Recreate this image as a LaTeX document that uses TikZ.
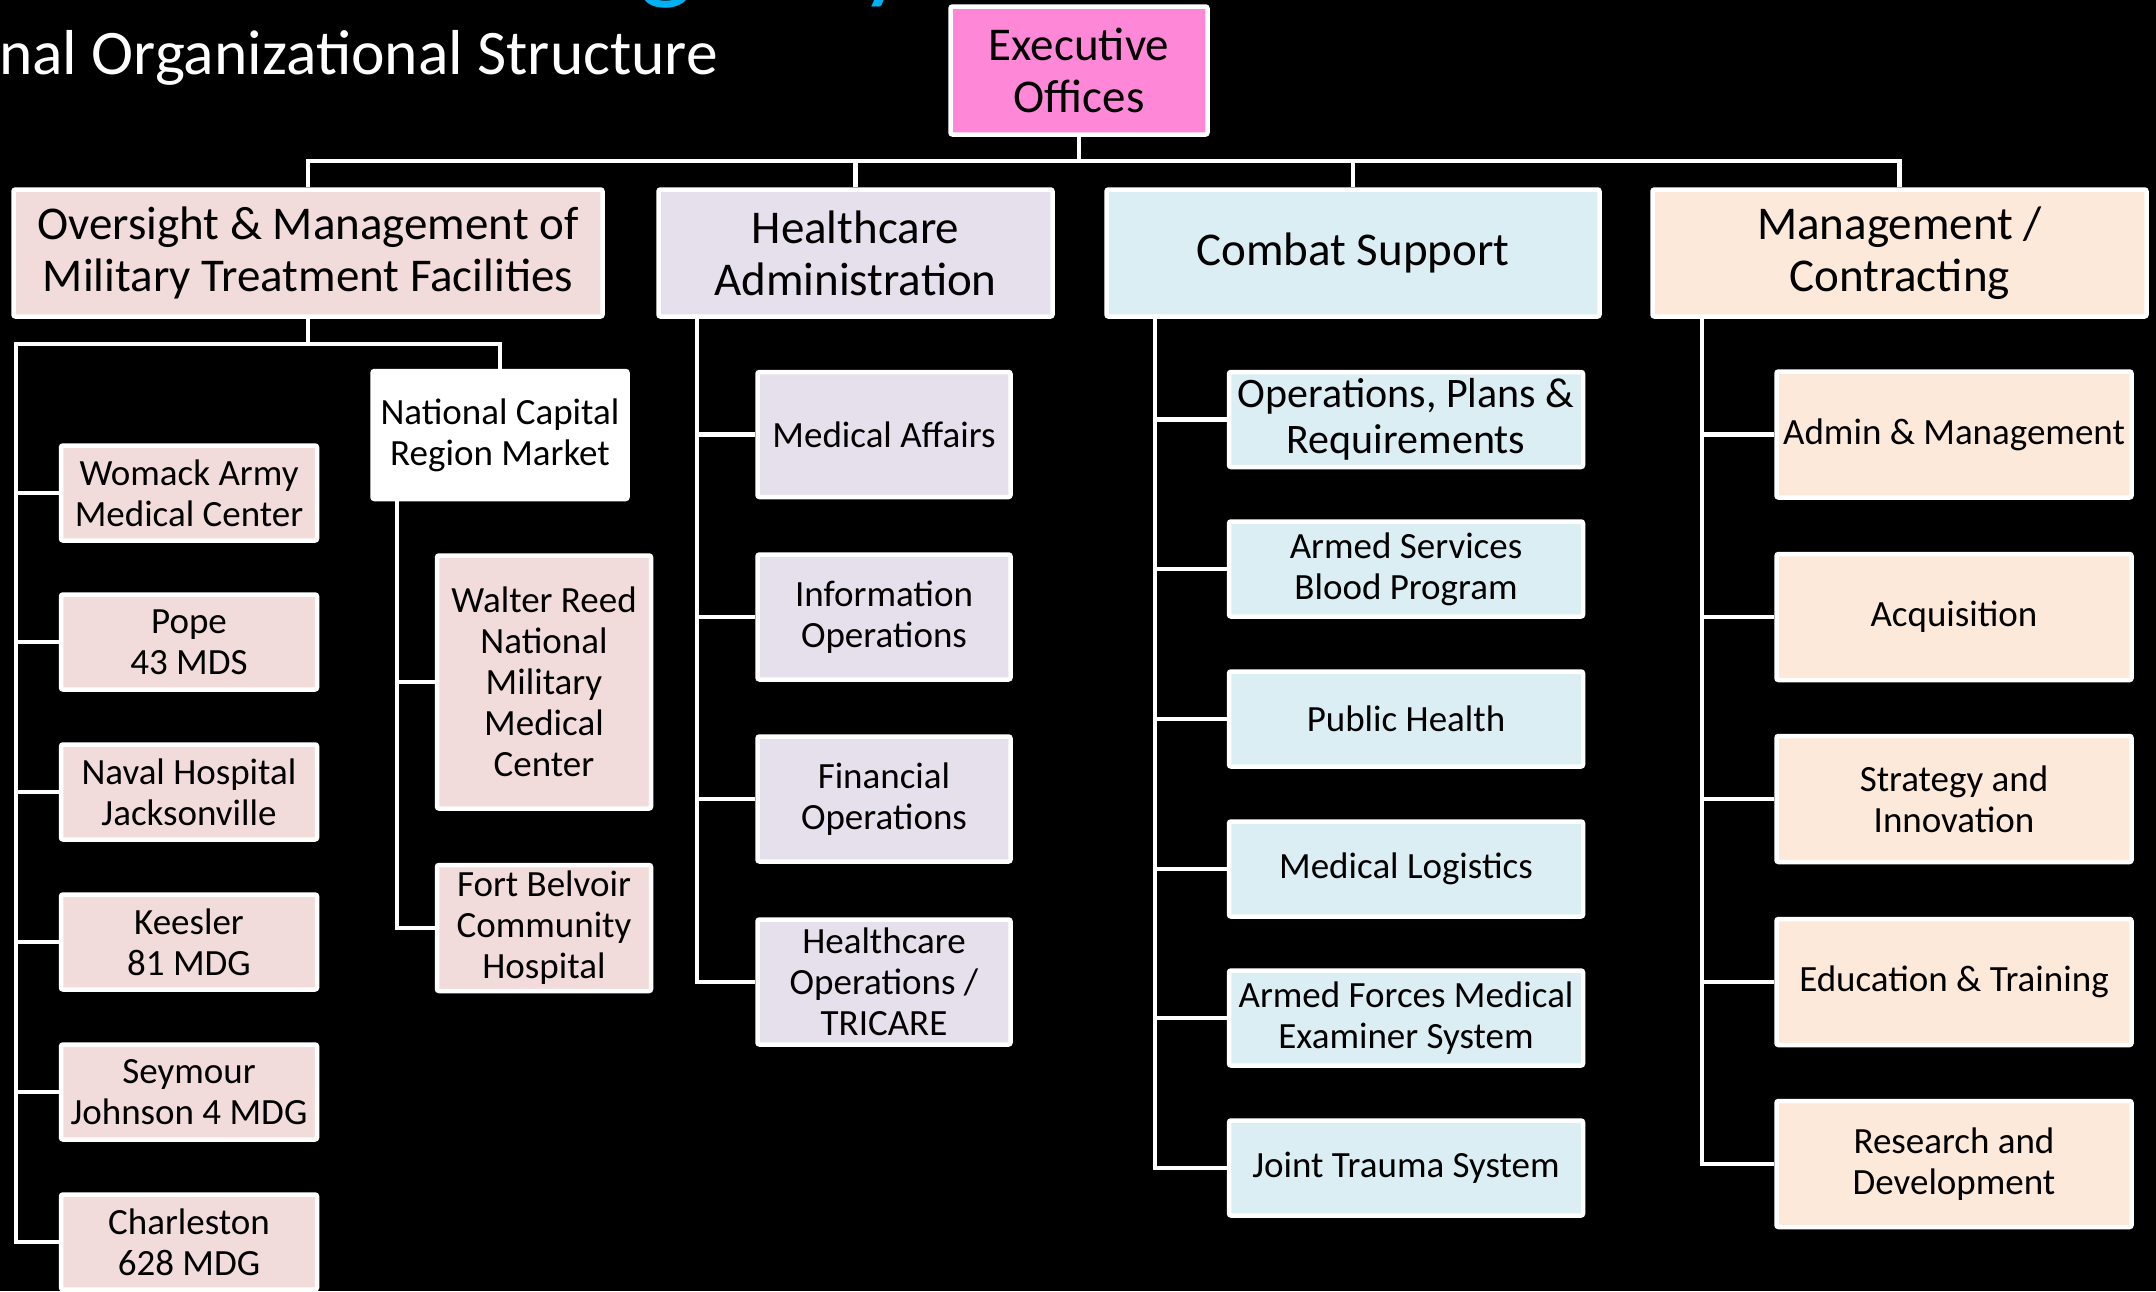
\documentclass[tikz,border=0pt]{standalone}
\usepackage{fontspec}
\setmainfont{Carlito}
\usepackage{tikz}

\begin{document}
\begin{tikzpicture}[x=1pt,y=1pt,yscale=-1,xscale=1,
    box/.style={draw=white, line width=4.5pt, rounded corners=2pt, text=black, align=center, inner sep=0pt},
    headbox/.style={box, minimum height=127pt, font=\fontsize{47}{52}\selectfont},
    unitbox/.style={box, font=\fontsize{37}{41}\selectfont},
    mtf/.style={fill={rgb, 255:red, 242; green, 220; blue, 219 }},
    hcad/.style={fill={rgb, 255:red, 229; green, 224; blue, 236 }},
    cbsup/.style={fill={rgb, 255:red, 219; green, 238; blue, 244 }},
    mgcon/.style={fill={rgb, 255:red, 253; green, 233; blue, 217 }},
    link/.style={draw=white, line width=4.5pt}]
        \useasboundingbox (0,0) rectangle (2156,1291);
        \fill [black] (0,0) rectangle (2156,1291);
        \clip (0,0) rectangle (2156,1291);

        % Text Node
        \node [anchor=base west, inner sep=0pt, text={rgb, 255:red, 0; green, 176; blue, 240 }, font=\fontsize{115}{120}\selectfont] (ttl) at (573,-12) {Agency};
        % Text Node
        \node [anchor=base west, inner sep=0pt, text=white, font=\fontsize{63.5}{70}\selectfont] (sub) at (-1,74) {nal Organizational Structure};

        %Shape: Rectangle [top]
        \node [headbox, fill={rgb, 255:red, 255; green, 135; blue, 215 }, minimum width=257pt, minimum height=128pt] (exec) at (1079,70.5) {Executive\\Offices};

        %Shape: Rectangle [first level]
        \node [headbox, mtf, minimum width=589pt] (ovs) at (308,253) {Oversight \& Management of\\Military Treatment Facilities};
        \node [headbox, hcad, minimum width=394pt] (hca) at (855.5,253) {Healthcare\\Administration};
        \node [headbox, cbsup, minimum width=493pt] (cbs) at (1353,253) {Combat Support};
        \node [headbox, mgcon, minimum width=494pt] (mgc) at (1899.5,253) {Management /\\Contracting};

        %Shape: Rectangle [treatment facilities]
        \node [unitbox, mtf, minimum width=256pt, minimum height=95pt] (wom) at (189,493) {Womack Army\\Medical Center};
        \node [unitbox, mtf, minimum width=256pt, minimum height=95pt] (pope) at (189,642) {Pope\\43 MDS};
        \node [unitbox, mtf, minimum width=256pt, minimum height=95pt] (nav) at (189,792) {Naval Hospital\\Jacksonville};
        \node [unitbox, mtf, minimum width=256pt, minimum height=95pt] (kee) at (189,942) {Keesler\\81 MDG};
        \node [unitbox, mtf, minimum width=256pt, minimum height=95pt] (sey) at (189,1092) {Seymour\\Johnson 4 MDG};
        \node [unitbox, mtf, minimum width=256pt, minimum height=95pt] (chs) at (189,1242) {Charleston\\628 MDG};
        \node [unitbox, fill=white, minimum width=255pt, minimum height=128pt] (ncr) at (500,435) {National Capital\\Region Market};
        \node [unitbox, mtf, minimum width=214pt, minimum height=253pt] (wrd) at (544,682) {Walter Reed\\National\\Military\\Medical\\Center};
        \node [unitbox, mtf, minimum width=214pt, minimum height=126pt] (ftb) at (544,928) {Fort Belvoir\\Community\\Hospital};

        %Shape: Rectangle [healthcare administration]
        \node [unitbox, hcad, minimum width=253pt, minimum height=125pt] (mda) at (884,434.5) {Medical Affairs};
        \node [unitbox, hcad, minimum width=253pt, minimum height=125pt] (ifo) at (884,617) {Information\\Operations};
        \node [unitbox, hcad, minimum width=253pt, minimum height=125pt] (fno) at (884,799) {Financial\\Operations};
        \node [unitbox, hcad, minimum width=253pt, minimum height=125pt] (hco) at (884,982) {Healthcare\\Operations /\\TRICARE};

        %Shape: Rectangle [combat support]
        \node [unitbox, cbsup, minimum width=354pt, minimum height=95pt, font=\fontsize{42}{46}\selectfont] (opr) at (1406,419.5) {Operations, Plans \&\\Requirements};
        \node [unitbox, cbsup, minimum width=354pt, minimum height=95pt] (asb) at (1406,569) {Armed Services\\Blood Program};
        \node [unitbox, cbsup, minimum width=354pt, minimum height=95pt] (phl) at (1406,719) {Public Health};
        \node [unitbox, cbsup, minimum width=354pt, minimum height=95pt] (mlg) at (1406,869) {Medical Logistics};
        \node [unitbox, cbsup, minimum width=354pt, minimum height=95pt] (afm) at (1406,1018) {Armed Forces Medical\\Examiner System};
        \node [unitbox, cbsup, minimum width=354pt, minimum height=95pt] (jts) at (1406,1168) {Joint Trauma System};

        %Shape: Rectangle [management / contracting]
        \node [unitbox, mgcon, minimum width=355pt, minimum height=126pt] (adm) at (1954,434.5) {Admin \& Management};
        \node [unitbox, mgcon, minimum width=355pt, minimum height=126pt] (acq) at (1954,617) {Acquisition};
        \node [unitbox, mgcon, minimum width=355pt, minimum height=126pt] (sai) at (1954,799) {Strategy and\\Innovation};
        \node [unitbox, mgcon, minimum width=355pt, minimum height=126pt] (edt) at (1954,982) {Education \& Training};
        \node [unitbox, mgcon, minimum width=355pt, minimum height=126pt] (rnd) at (1954,1164) {Research and\\Development};

        %Straight Lines [top bus]
        \coordinate (bus) at (1079,161);
        \draw [link] (exec.south) -- (bus);
        \draw [link] (ovs.north) |- (bus) -| (mgc.north);
        \draw [link] (hca.north) -- (hca.north |- bus);
        \draw [link] (cbs.north) -- (cbs.north |- bus);

        %Straight Lines [treatment facilities]
        \coordinate (obus) at (308,344);
        \coordinate (ocnr) at (16,344);
        \draw [link] (ovs.south) -- (obus);
        \draw [link] (ncr.north) |- (ocnr) |- (chs.west);
        \draw [link] (wom.west) -- (wom.west -| ocnr);
        \draw [link] (pope.west) -- (pope.west -| ocnr);
        \draw [link] (nav.west) -- (nav.west -| ocnr);
        \draw [link] (kee.west) -- (kee.west -| ocnr);
        \draw [link] (sey.west) -- (sey.west -| ocnr);
        \coordinate (nleg) at (397,500);
        \draw [link] (nleg) |- (ftb.west);
        \draw [link] (wrd.west) -- (wrd.west -| nleg);

        %Straight Lines [healthcare administration]
        \coordinate (hleg) at (697,317);
        \draw [link] (hleg) |- (hco.west);
        \draw [link] (mda.west) -- (mda.west -| hleg);
        \draw [link] (ifo.west) -- (ifo.west -| hleg);
        \draw [link] (fno.west) -- (fno.west -| hleg);

        %Straight Lines [combat support]
        \coordinate (cleg) at (1155,317);
        \draw [link] (cleg) |- (jts.west);
        \draw [link] (opr.west) -- (opr.west -| cleg);
        \draw [link] (asb.west) -- (asb.west -| cleg);
        \draw [link] (phl.west) -- (phl.west -| cleg);
        \draw [link] (mlg.west) -- (mlg.west -| cleg);
        \draw [link] (afm.west) -- (afm.west -| cleg);

        %Straight Lines [management / contracting]
        \coordinate (mleg) at (1702,317);
        \draw [link] (mleg) |- (rnd.west);
        \draw [link] (adm.west) -- (adm.west -| mleg);
        \draw [link] (acq.west) -- (acq.west -| mleg);
        \draw [link] (sai.west) -- (sai.west -| mleg);
        \draw [link] (edt.west) -- (edt.west -| mleg);

\end{tikzpicture}
\end{document}
